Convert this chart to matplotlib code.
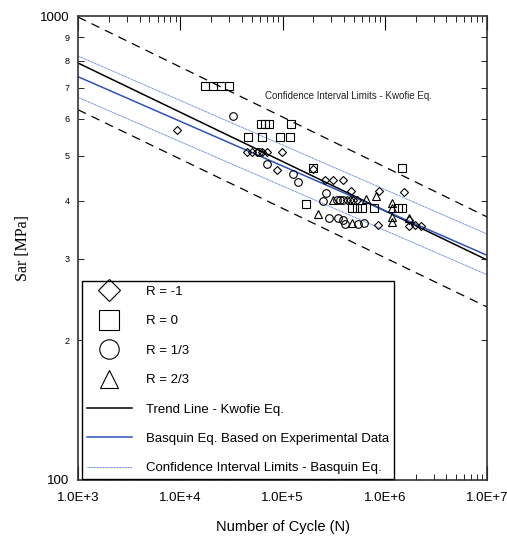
import numpy as np
import matplotlib
matplotlib.use("Agg")
import matplotlib.pyplot as plt
from matplotlib.lines import Line2D

plt.rcParams['font.family'] = ['Liberation Sans', 'DejaVu Sans']

# --- data (N cycles, Sar in MPa) ---
n_rm1 = [9270, 44700, 50000, 56000, 62700, 70100, 98200, 87700, 197300, 258400,
         309300, 387400, 463500, 869000, 1.53e6, 423500, 453000, 485000, 531000,
         851000, 1.71e6, 1.71e6, 1.955e6, 2.24e6]
s_rm1 = [567, 510, 510, 510, 510, 510, 510, 465, 467, 443,
         443, 443, 420, 420, 418, 402, 402, 402, 402,
         354, 363, 353, 354, 353]

n_r0 = [17400, 20800, 24900, 29800, 61300, 67000, 73300, 120200, 45700, 62700,
        93900, 117500, 197300, 168500, 474000, 531000, 593600, 777000, 1.334e6,
        1.46e6, 1.49e6]
s_r0 = [705, 705, 705, 705, 584, 584, 584, 584, 548, 548,
        548, 548, 470, 394, 385, 385, 385, 385, 385,
        385, 470]

n_r13 = [32700, 58600, 70100, 125800, 140700, 264400, 247000, 338300, 362000,
         387400, 282700, 346100, 387400, 405000, 542500, 621000]
s_r13 = [610, 510, 479, 456, 438, 416, 400, 402, 402,
         402, 367, 367, 363, 356, 356, 358]

n_r23 = [220800, 309300, 650000, 813000, 474000, 1.19e6, 1.19e6, 1.19e6, 1.19e6, 1.71e6]
s_r23 = [374, 402, 404, 410, 358, 396, 385, 369, 360, 367]

# line end points at N = 1e3 and N = 1e7
n_ends = [1e3, 1e7]
trend_kwofie = [792, 298]
basquin = [740, 305]
basquin_ci_up = [820, 339]
basquin_ci_lo = [668, 277]
kwofie_ci_up = [995, 369]
kwofie_ci_lo = [628, 236]

x_major = [1e3, 1e4, 1e5, 1e6, 1e7]
x_major_labels = ['1.0E+3', '1.0E+4', '1.0E+5', '1.0E+6', '1.0E+7']
y_minor = [200, 300, 400, 500, 600, 700, 800, 900]
y_minor_labels = ['2', '3', '4', '5', '6', '7', '8', '9']

fig = plt.figure(figsize=(5.07, 5.39), dpi=100)
ax = fig.add_axes([0.1538, 0.1095, 0.8068, 0.8608])
ax.set_xscale('log')
ax.set_yscale('log')

blue = '#2f52b8'
ci_blue = '#5577d8'
ax.plot(n_ends, kwofie_ci_up, color='black', lw=0.9, dashes=(7, 5))
ax.plot(n_ends, kwofie_ci_lo, color='black', lw=0.9, dashes=(7, 5))
ax.plot(n_ends, basquin_ci_up, color=ci_blue, lw=0.7, linestyle=(0, (1, 0.6)))
ax.plot(n_ends, basquin_ci_lo, color=ci_blue, lw=0.7, linestyle=(0, (1, 0.6)))
ax.plot(n_ends, trend_kwofie, color='black', lw=1.1)
ax.plot(n_ends, basquin, color=blue, lw=1.1)

mk = dict(linestyle='none', mfc='none', mec='black', mew=0.8)
ax.plot(n_rm1, s_rm1, marker='D', ms=4.2, **mk)
ax.plot(n_r0, s_r0, marker='s', ms=5.5, **mk)
ax.plot(n_r13, s_r13, marker='o', ms=5.5, **mk)
ax.plot(n_r23, s_r23, marker='^', ms=5.5, **mk)

ax.text(4.43e5, 672, 'Confidence Interval Limits - Kwofie Eq.', fontsize=7,
        ha='center', va='center', color='#222222')

ax.set_xlim(1e3, 1e7)
ax.set_ylim(100, 1000)

ax.set_xticks(x_major, x_major_labels)
ax.set_xticks([k * 10.0 ** d for d in range(3, 7) for k in range(2, 10)], minor=True)
ax.set_yticks([100, 1000], ['100', '1000'])
ax.set_yticks(y_minor, y_minor_labels, minor=True)

ax.tick_params(which='both', direction='in', top=True, right=True, color='black')
ax.tick_params(axis='x', which='major', length=10, labelsize=9.5, pad=9)
ax.tick_params(axis='x', which='minor', length=4)
ax.tick_params(axis='y', which='major', length=0, labelsize=9.5, pad=6)
ax.tick_params(axis='y', which='minor', length=4, labelsize=6.5, pad=6)
for sp in ax.spines.values():
    sp.set_linewidth(1.2)
    sp.set_color('#333333')

ax.set_xlabel('Number of Cycle (N)', fontsize=10.5)
ax.xaxis.set_label_coords(0.5, -0.086)
ax.set_ylabel('Sar [MPa]', fontsize=11.5, family='Liberation Serif')
ax.yaxis.set_label_coords(-0.115, 0.5)

# legend
hmk = dict(linestyle='none', mfc='none', mec='black', mew=0.8)
handles = [
    Line2D([], [], marker='D', ms=11.5, **hmk),
    Line2D([], [], marker='s', ms=14, **hmk),
    Line2D([], [], marker='o', ms=14, **hmk),
    Line2D([], [], marker='^', ms=13, **hmk),
    Line2D([], [], color='black', lw=1.1),
    Line2D([], [], color=blue, lw=1.1),
    Line2D([], [], color=ci_blue, lw=0.7, linestyle=(0, (1, 0.6))),
]
labels = ['R = -1', 'R = 0', 'R = 1/3', 'R = 2/3', 'Trend Line - Kwofie Eq.',
          'Basquin Eq. Based on Experimental Data',
          'Confidence Interval Limits - Basquin Eq.']
leg = ax.legend(handles, labels, loc='lower left', bbox_to_anchor=(0.01, 0.002),
                borderaxespad=0, fontsize=9.5, frameon=True, fancybox=False,
                edgecolor='black', framealpha=1, handlelength=3.4,
                handletextpad=1.1, labelspacing=1.3, borderpad=0.35)
leg.get_frame().set_linewidth(1.0)

fig.savefig('out.png', dpi=100)
